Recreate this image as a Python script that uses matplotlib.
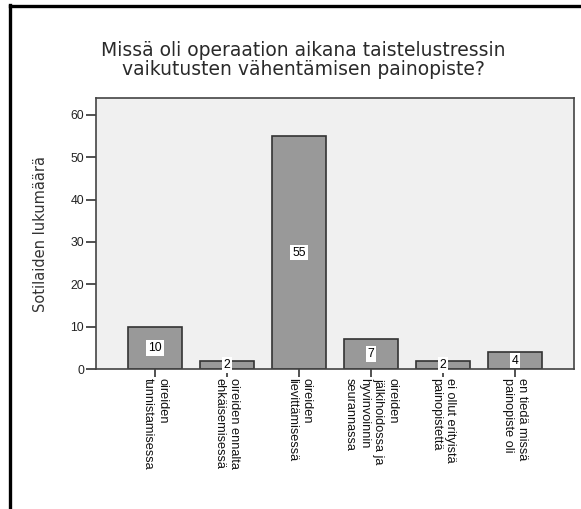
import matplotlib
matplotlib.use("Agg")
import matplotlib.pyplot as plt
from matplotlib.lines import Line2D

categories = [
    "oireiden\ntunnistamisessa",
    "oireiden ennalta\nehkäisemisessä",
    "oireiden\nlievittämisessä",
    "oireiden\njälkihoidossa ja\nhyvinvoinnin\nseurannassa",
    "ei ollut erityistä\npainopistettä",
    "en tiedä missä\npainopiste oli",
]
values = [10, 2, 55, 7, 2, 4]
yticks = [0, 10, 20, 30, 40, 50, 60]
title = "Missä oli operaation aikana taistelustressin\nvaikutusten vähentämisen painopiste?"
ylabel = "Sotilaiden lukumäärä"

W, H = 581, 509
fig = plt.figure(figsize=(W / 100, H / 100), dpi=100)
fig.patch.set_facecolor("white")

left, right, top, bottom = 96, 574, 98, 369
ax = fig.add_axes([left / W, (H - bottom) / H, (right - left) / W, (bottom - top) / H])
ax.set_facecolor("#f0f0f0")

x = list(range(len(values)))
ax.bar(x, values, width=0.76, color="#999999", edgecolor="#333333", linewidth=1.2, zorder=2)
for xi, v in zip(x, values):
    ax.text(xi, v / 2, str(v), ha="center", va="center", fontsize=8.8,
            family="Liberation Sans", color="black", zorder=3,
            bbox=dict(boxstyle="square,pad=0.15", fc="white", ec="none"))

ax.set_xlim(-0.82, len(values) - 1 + 0.82)
ax.set_ylim(0, 64)
ax.set_yticks(yticks)
ax.set_yticklabels([str(t) for t in yticks], family="Liberation Sans", fontsize=8.8, color="#222222")
ax.set_xticks(x)
ax.set_xticklabels(categories, rotation=-90, ha="center", va="top", multialignment="left",
                   family="Liberation Sans", fontsize=9.2, color="#111111", linespacing=1.25)
ax.tick_params(axis="y", direction="out", length=7.5, width=1.2, color="#333333", pad=1)
ax.tick_params(axis="x", direction="out", length=5.5, width=1.2, color="#333333", pad=1)
for s in ax.spines.values():
    s.set_color("#444444")
    s.set_linewidth(1.2)

ax.set_ylabel(ylabel, family="DejaVu Sans", fontsize=10.5, color="#333333")
ax.yaxis.set_label_coords(-0.1, 0.5)

fig.text(303 / W, 1 - 60 / H, title, ha="center", va="center", family="DejaVu Sans",
         fontsize=13.5, color="#2a2a2a", linespacing=1.0)

# outer border lines (top and left)
fig.add_artist(Line2D([9.5 / W, 1.0], [1 - 5.5 / H, 1 - 5.5 / H], color="black", linewidth=2.4,
                      transform=fig.transFigure))
fig.add_artist(Line2D([9.5 / W, 9.5 / W], [0, 1 - 4.5 / H], color="black", linewidth=2.4,
                      transform=fig.transFigure))

fig.savefig("out.png", dpi=100)
